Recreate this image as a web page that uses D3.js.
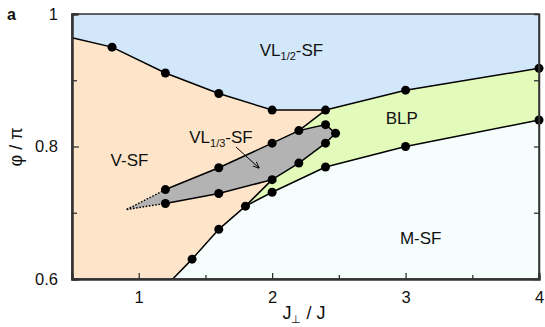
<!DOCTYPE html>
<html><head><meta charset="utf-8">
<script src="https://cdn.jsdelivr.net/npm/d3@7"></script>
<style>body{margin:0;background:#fff}svg{display:block}text{font-family:"Liberation Sans",Arial,sans-serif;fill:#111}</style>
</head><body>
<script>
// ---- data ----
const xTicks = [1, 2, 3, 4];
const xMinor = [1.5, 2.5, 3.5];
const yTicks = [0.6, 0.8, 1];
const yMinor = [0.7, 0.9];
const yTickLabels = ["0.6", "0.8", "1"];

// VL1/2-SF | V-SF boundary
const topX = [0.5, 0.8, 1.2, 1.6, 2.0, 2.4];
const topY = [0.964, 0.95, 0.911, 0.88, 0.855, 0.855];
// BLP upper boundary
const blpUpX = [2.4, 3, 4];
const blpUpY = [0.855, 0.885, 0.918];
// BLP | M-SF boundary
const blpLoX = [2.4, 3, 4];
const blpLoY = [0.769, 0.8, 0.84];
// V-SF | M-SF boundary
const msfX = [1.255, 1.4, 1.6, 1.8, 2.0, 2.4];
const msfY = [0.6, 0.63, 0.675, 0.71, 0.731, 0.769];
// VL1/3-SF region
const vl3UpX = [1.2, 1.6, 2.0, 2.2, 2.4, 2.475];
const vl3UpY = [0.735, 0.768, 0.805, 0.824, 0.833, 0.82];
const vl3LoX = [1.2, 1.6, 2.0, 2.2, 2.4, 2.475];
const vl3LoY = [0.714, 0.729, 0.75, 0.775, 0.805, 0.82];
const tipPt = [0.91, 0.705];
// connecting segments
const link1 = [[1.8, 0.71], [2.0, 0.75]];
const link2 = [[2.2, 0.824], [2.4, 0.855]];

const W = 545, H = 327;
const m = {l: 72, r: 539, t: 14, b: 279};
const x = d3.scaleLinear().domain([0.5, 4]).range([m.l, m.r]);
const y = d3.scaleLinear().domain([0.6, 1]).range([m.b, m.t]);

const svg = d3.select("body").append("svg").attr("width", W).attr("height", H);
const zip = (a, b) => a.map((v, i) => [v, b[i]]);
const line = d3.line().x(d => x(d[0])).y(d => y(d[1]));

const topB = zip(topX, topY), blpUp = zip(blpUpX, blpUpY), blpLo = zip(blpLoX, blpLoY);
const msf = zip(msfX, msfY), vUp = zip(vl3UpX, vl3UpY), vLo = zip(vl3LoX, vl3LoY);

// backgrounds
svg.append("rect").attr("x", m.l).attr("y", m.t).attr("width", m.r - m.l).attr("height", m.b - m.t).attr("fill", "#f6fdfd");
svg.append("path").attr("fill", "#d3e7fb")
  .attr("d", line([[0.5, 1], ...topB, ...blpUp.slice(1), [4, 1]]) + "Z");
svg.append("path").attr("fill", "#fee5c9")
  .attr("d", line([...topB, link2[0], link1[1], link1[0], ...msf.slice(0, 4).reverse(), [0.5, 0.6]]) + "Z");
svg.append("path").attr("fill", "#e3fbba")
  .attr("d", line([...blpUp, ...blpLo.slice().reverse(), ...msf.slice(3).reverse(), link1[0], ...vLo.slice(2), ...vUp.slice(3, 5).reverse()]) + "Z");
svg.append("path").attr("fill", "#b3b3b3")
  .attr("d", line([tipPt, ...vUp, ...vLo.slice(0, 5).reverse()]) + "Z");

// boundary lines
const solid = [topB, blpUp, blpLo, msf, vUp, vLo, link1, link2];
solid.forEach(p => svg.append("path").attr("d", line(p)).attr("fill", "none").attr("stroke", "#000").attr("stroke-width", 1.5));
[[tipPt, vUp[0]], [tipPt, vLo[0]]].forEach(p => svg.append("path").attr("d", line(p)).attr("fill", "none")
  .attr("stroke", "#000").attr("stroke-width", 1.4).attr("stroke-dasharray", "1.6,1.6"));

// markers
const pts = [...topB.slice(1), ...blpUp.slice(1), ...blpLo.slice(1), ...msf.slice(1), ...vUp, ...vLo.slice(0, 5)];
svg.selectAll("circle.p").data(pts).join("circle").attr("class", "p")
  .attr("cx", d => x(d[0])).attr("cy", d => y(d[1])).attr("r", 4.5).attr("fill", "#000");

// frame
svg.append("rect").attr("x", m.l).attr("y", m.t).attr("width", m.r - m.l).attr("height", m.b - m.t)
  .attr("fill", "none").attr("stroke", "#333").attr("stroke-width", 1.5);

// axes with inward ticks
const gx = svg.append("g").attr("transform", `translate(0,${m.b})`)
  .call(d3.axisBottom(x).tickValues(xTicks).tickSize(-6).tickPadding(12).tickFormat(d3.format("d")));
const gxm = svg.append("g").attr("transform", `translate(0,${m.b})`)
  .call(d3.axisBottom(x).tickValues(xMinor).tickSize(-4).tickFormat(""));
const gy = svg.append("g").attr("transform", `translate(${m.l},0)`)
  .call(d3.axisLeft(y).tickValues(yTicks).tickSize(-7).tickPadding(14).tickFormat((d, i) => yTickLabels[i]));
const gym = svg.append("g").attr("transform", `translate(${m.l},0)`)
  .call(d3.axisLeft(y).tickValues(yMinor).tickSize(-5).tickFormat(""));
const gyr = svg.append("g").attr("transform", `translate(${m.r},0)`)
  .call(d3.axisRight(y).tickValues([0.7, 0.8, 0.9]).tickSize(-5).tickFormat(""));
[gx, gxm, gy, gym, gyr].forEach(g => {
  g.select(".domain").attr("stroke", "#333").attr("stroke-width", 2);
  g.selectAll(".tick line").attr("stroke", "#333").attr("stroke-width", 1.3);
  g.selectAll(".tick text").attr("font-size", 16.5).attr("fill", "#111").attr("font-family", "Liberation Sans, Arial, sans-serif");
});
gyr.select(".domain").attr("stroke-width", 1.5);

// labels
function label(txt, sub, rest, cx, by) {
  const t = svg.append("text").attr("x", cx).attr("y", by).attr("font-size", 17).attr("text-anchor", "middle");
  t.append("tspan").text(txt);
  if (sub) {
    t.append("tspan").text(sub).attr("font-size", 11).attr("dy", 4);
    t.append("tspan").text(rest).attr("dy", -4);
  }
}
label("VL", "1/2", "-SF", 291.5, 56);
label("VL", "1/3", "-SF", 221, 142.5);
label("V-SF", null, null, 129.5, 165.5);
label("BLP", null, null, 401.7, 124);
label("M-SF", null, null, 420.7, 244.3);

// arrow
svg.append("defs").append("marker").attr("id", "ah").attr("viewBox", "0 0 10 10").attr("refX", 9).attr("refY", 5)
  .attr("markerWidth", 7).attr("markerHeight", 7).attr("orient", "auto")
  .append("path").attr("d", "M0,1 L10,5 L0,9").attr("fill", "none").attr("stroke", "#000").attr("stroke-width", 1.3);
svg.append("line").attr("x1", 236).attr("y1", 147).attr("x2", 259).attr("y2", 168)
  .attr("stroke", "#000").attr("stroke-width", 1).attr("marker-end", "url(#ah)");

// axis titles
const xt = svg.append("text").attr("x", 304).attr("y", 319).attr("font-size", 18).attr("text-anchor", "middle");
xt.append("tspan").text("J");
xt.append("tspan").text("⊥").attr("font-size", 11).attr("dy", 4);
xt.append("tspan").text(" / J").attr("dy", -4);
svg.append("text").attr("transform", "translate(22,147) rotate(-90)").attr("font-size", 18)
  .attr("text-anchor", "middle").text("φ / π");

svg.append("text").attr("x", 7).attr("y", 20).attr("font-size", 16).attr("font-weight", "bold").text("a");
</script>
</body></html>
